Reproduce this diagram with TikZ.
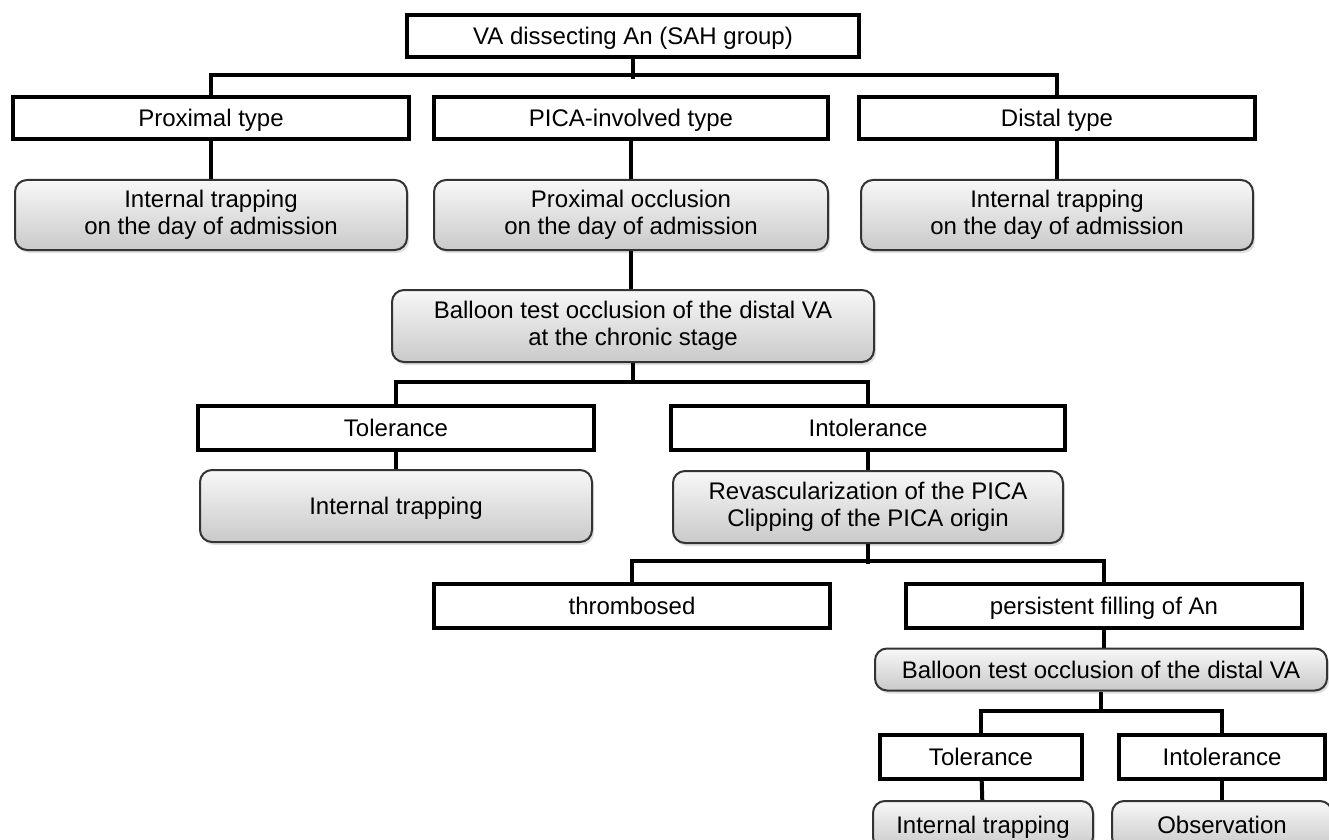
\documentclass[tikz,border=0pt]{standalone}
\usepackage{fontspec}
\setmainfont{Liberation Sans}
\usetikzlibrary{shadows}
\tikzset{
  sqbox/.style={draw, line width=2pt, fill=white, inner sep=0pt, align=center,
    text height=8.6pt, text depth=0pt},
  rbox/.style={draw=black!80, line width=1pt, rounded corners=6pt, inner sep=0pt, align=center,
    top color=gray!6, bottom color=gray!42,
    drop shadow={opacity=0.25, shadow xshift=1pt, shadow yshift=-1.5pt}},
  oneline/.style={text height=8.6pt, text depth=0pt},
  link/.style={line width=2pt}
}
\begin{document}
\begin{tikzpicture}[x=0.5pt,y=-0.5pt,font=\fontsize{12}{13.5}\selectfont]
    \useasboundingbox (0,0) rectangle (1329,840);
    \clip (0,0) rectangle (1329,840);
    \node[sqbox,minimum width=226pt,minimum height=21pt] (top) at (633,36) {VA dissecting An (SAH group)};
    \node[sqbox,minimum width=198pt,minimum height=21pt] (ptype) at (211,118) {Proximal type};
    \node[sqbox,minimum width=197pt,minimum height=21pt] (pica) at (631,118) {PICA-involved type};
    \node[sqbox,minimum width=198pt,minimum height=21pt] (dtype) at (1057,118) {Distal type};
    \node[rbox,minimum width=196pt,minimum height=35pt] (trapA) at (211,215) {Internal trapping\\on the day of admission};
    \node[rbox,minimum width=197pt,minimum height=35pt] (occl) at (631,215) {Proximal occlusion\\on the day of admission};
    \node[rbox,minimum width=196pt,minimum height=35pt] (trapB) at (1057,215) {Internal trapping\\on the day of admission};
    \node[rbox,minimum width=241pt,minimum height=36pt] (btoA) at (633,326) {Balloon test occlusion of the distal VA\\at the chronic stage};
    \node[sqbox,minimum width=198pt,minimum height=22pt] (tolA) at (396,428) {Tolerance};
    \node[sqbox,minimum width=197pt,minimum height=22pt] (intolA) at (868,428) {Intolerance};
    \node[rbox,oneline,minimum width=196pt,minimum height=36pt] (trapC) at (396,506) {Internal trapping};
    \node[rbox,minimum width=195pt,minimum height=36pt] (revasc) at (868,507) {Revascularization of the PICA\\Clipping of the PICA origin};
    \node[sqbox,minimum width=198pt,minimum height=22pt] (thromb) at (632,606) {thrombosed};
    \node[sqbox,minimum width=198pt,minimum height=22pt] (persist) at (1104,606) {persistent filling of An};
    \node[rbox,oneline,minimum width=226pt,minimum height=21pt] (btoB) at (1101,669.5) {Balloon test occlusion of the distal VA};
    \node[sqbox,minimum width=101pt,minimum height=22pt] (tolB) at (981,756.5) {Tolerance};
    \node[sqbox,minimum width=103pt,minimum height=22pt] (intolB) at (1222,756.5) {Intolerance};
    \node[rbox,oneline,minimum width=110pt,minimum height=24pt] (trapD) at (983,825) {Internal trapping};
    \node[rbox,oneline,minimum width=110pt,minimum height=24pt] (obs) at (1222,825) {Observation};
    \draw[link] (top.south) -- ++(0,20);
    \draw[link] (ptype.north) -- ++(0,-20) -| (dtype.north);
    \draw[link] (ptype) -- (trapA);
    \draw[link] (pica) -- (occl);
    \draw[link] (dtype) -- (trapB);
    \draw[link] (occl.south) -- (btoA.north -| occl.south);
    \draw[link] (btoA.south) -- ++(0,21);
    \draw[link] (tolA.north) -- ++(0,-22) -| (intolA.north);
    \draw[link] (tolA) -- (trapC);
    \draw[link] (intolA) -- (revasc);
    \draw[link] (revasc.south) -- ++(0,20);
    \draw[link] (thromb.north) -- ++(0,-21) -| (persist.north);
    \draw[link] (persist.south) -- (btoB.north -| persist.south);
    \draw[link] (btoB.south) -- ++(0,21);
    \draw[link] (tolB.north) -- ++(0,-22) -| (intolB.north);
    \draw[link] (tolB) -- (trapD);
    \draw[link] (intolB) -- (obs);
\end{tikzpicture}
\end{document}
